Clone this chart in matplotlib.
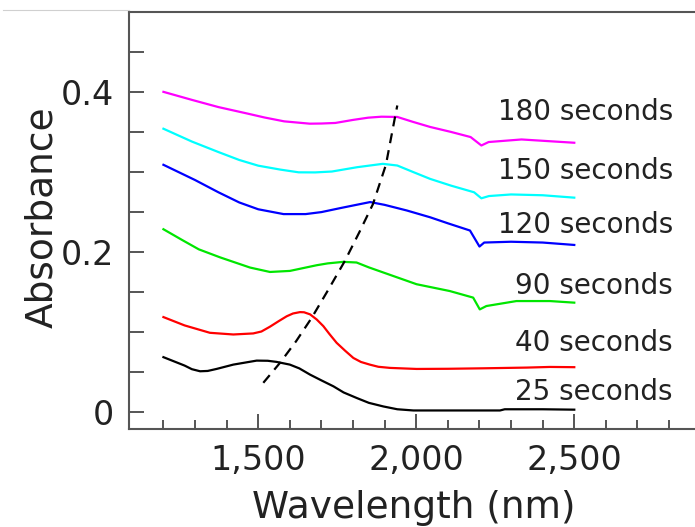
import matplotlib
matplotlib.use("Agg")
import matplotlib.pyplot as plt
from matplotlib.lines import Line2D
from matplotlib.ticker import FixedLocator, FuncFormatter
import numpy as np

plt.rcParams["font.family"] = ["DejaVu Sans"]

# spectra (wavelength in nm, absorbance)
wl_25 = [1200, 1267, 1290, 1316, 1340, 1368, 1421, 1495, 1530, 1558, 1600, 1630, 1664, 1700, 1738, 1770,
         1812, 1850, 1896, 1940, 1991, 2100, 2265, 2280, 2400, 2500]
a_25 = [0.069, 0.0585, 0.054, 0.0514, 0.0518, 0.0543, 0.0597, 0.0647, 0.0645, 0.0631, 0.0597, 0.055,
        0.0472, 0.040, 0.0326, 0.025, 0.018, 0.012, 0.0075, 0.004, 0.0025, 0.0025, 0.0025, 0.004, 0.004, 0.0035]

wl_40 = [1200, 1267, 1347, 1421, 1484, 1510, 1537, 1565, 1590, 1610, 1632, 1645, 1664, 1685, 1706, 1725,
         1748, 1775, 1801, 1825, 1853, 1880, 1917, 2001, 2100, 2212, 2350, 2423, 2500]
a_40 = [0.119, 0.1086, 0.0994, 0.0973, 0.0986, 0.101, 0.107, 0.114, 0.120, 0.1235, 0.1252, 0.125, 0.1224,
        0.116, 0.1077, 0.098, 0.0869, 0.077, 0.068, 0.063, 0.0597, 0.057, 0.0556, 0.0543, 0.0545, 0.0551,
        0.056, 0.0568, 0.0565]

wl_90 = [1200, 1260, 1312, 1380, 1474, 1537, 1600, 1685, 1720, 1769, 1811, 1850, 1896, 2001, 2106, 2180,
         2201, 2222, 2317, 2423, 2500]
a_90 = [0.2286, 0.215, 0.2035, 0.1934, 0.1808, 0.1753, 0.1766, 0.1837, 0.186, 0.1879, 0.1871, 0.181,
        0.1746, 0.160, 0.1515, 0.1433, 0.1286, 0.1328, 0.139, 0.139, 0.137]

wl_120 = [1200, 1300, 1374, 1440, 1500, 1580, 1650, 1700, 1760, 1810, 1854, 1900, 1970, 2044, 2100, 2170,
          2200, 2215, 2300, 2400, 2500]
a_120 = [0.309, 0.290, 0.2747, 0.262, 0.2535, 0.2475, 0.2475, 0.250, 0.255, 0.259, 0.2625, 0.259, 0.252,
         0.2435, 0.236, 0.227, 0.207, 0.212, 0.213, 0.212, 0.209]

wl_150 = [1200, 1290, 1374, 1440, 1500, 1570, 1628, 1680, 1733, 1813, 1894, 1940, 1990, 2044, 2110, 2183,
          2206, 2230, 2300, 2400, 2500]
a_150 = [0.354, 0.338, 0.3249, 0.315, 0.3079, 0.303, 0.2996, 0.2995, 0.3006, 0.306, 0.3102, 0.3081, 0.300,
         0.2914, 0.283, 0.2747, 0.2672, 0.270, 0.272, 0.271, 0.268]

wl_180 = [1200, 1290, 1374, 1467, 1520, 1582, 1663, 1700, 1744, 1800, 1848, 1890, 1940, 1990, 2044, 2110,
          2172, 2206, 2229, 2333, 2500]
a_180 = [0.400, 0.390, 0.381, 0.3728, 0.368, 0.3632, 0.3603, 0.3605, 0.3612, 0.365, 0.3678, 0.369, 0.3687,
         0.3625, 0.3562, 0.350, 0.3436, 0.3331, 0.3374, 0.3406, 0.3365]

# peak shift guide
peak_wl = [1516, 1569, 1620, 1669, 1720, 1774, 1820, 1863, 1904, 1933, 1940]
peak_a = [0.037, 0.062, 0.089, 0.118, 0.152, 0.189, 0.225, 0.26, 0.309, 0.369, 0.383]

labels = ["180 seconds", "150 seconds", "120 seconds", "90 seconds", "40 seconds", "25 seconds"]
label_y = [0.3644, 0.2914, 0.224, 0.1474, 0.0764, 0.016]

series = [(wl_25, a_25, "black"), (wl_40, a_40, "#ff0000"), (wl_90, a_90, "#00e600"),
          (wl_120, a_120, "#0000ff"), (wl_150, a_150, "#00ffff"), (wl_180, a_180, "#ff00ff")]

fig = plt.figure(figsize=(6.95, 5.27), dpi=100)
ax = fig.add_axes([129.3 / 695, 98.5 / 527, 603 / 695, 416.8 / 527])

for wl, a, c in series:
    ax.plot(wl, a, color=c, lw=1.6)

ax.plot(peak_wl, peak_a, color="black", lw=1.6, dashes=(4.5, 3.2))

for t, y in zip(labels, label_y):
    ax.text(2812, y, t, ha="right", va="baseline", fontsize=20, color="#222222")

ax.set_xlim(1092, 3000)
ax.set_ylim(-0.02, 0.5)

ax.xaxis.set_major_locator(FixedLocator([1500, 2000, 2500]))
ax.xaxis.set_minor_locator(FixedLocator(np.arange(1200, 3000, 100)))
ax.xaxis.set_major_formatter(FuncFormatter(lambda v, p: f"{v:,.0f}"))
ax.yaxis.set_major_locator(FixedLocator([0, 0.2, 0.4]))
ax.yaxis.set_minor_locator(FixedLocator([0.05, 0.1, 0.15, 0.25, 0.3, 0.35, 0.45]))
ax.yaxis.set_major_formatter(FuncFormatter(lambda v, p: f"{v:g}"))

ax.tick_params(axis="both", which="both", direction="in", color="#555555", width=1.4,
               labelsize=24, labelcolor="#222222", pad=11)
ax.tick_params(axis="x", which="major", length=10.5)
ax.tick_params(axis="x", which="minor", length=6.5)
ax.tick_params(axis="y", which="both", length=10.5)

for side in ["left", "bottom", "top", "right"]:
    ax.spines[side].set_color("#555555")
    ax.spines[side].set_linewidth(1.5)

fig.text(52 / 695, 1 - 217 / 527, "Absorbance", rotation=90, rotation_mode="anchor",
         ha="center", va="baseline", fontsize=27, color="#222222")
fig.text(414 / 695, 1 - 518 / 527, "Wavelength (nm)", ha="center", va="baseline",
         fontsize=27, color="#222222")

# faint crop line at the top left
fig.add_artist(Line2D([0.005, 129 / 695], [1 - 10 / 527, 1 - 10 / 527], color="#d0d0d0", lw=0.8))

fig.savefig("out.png", dpi=100)
